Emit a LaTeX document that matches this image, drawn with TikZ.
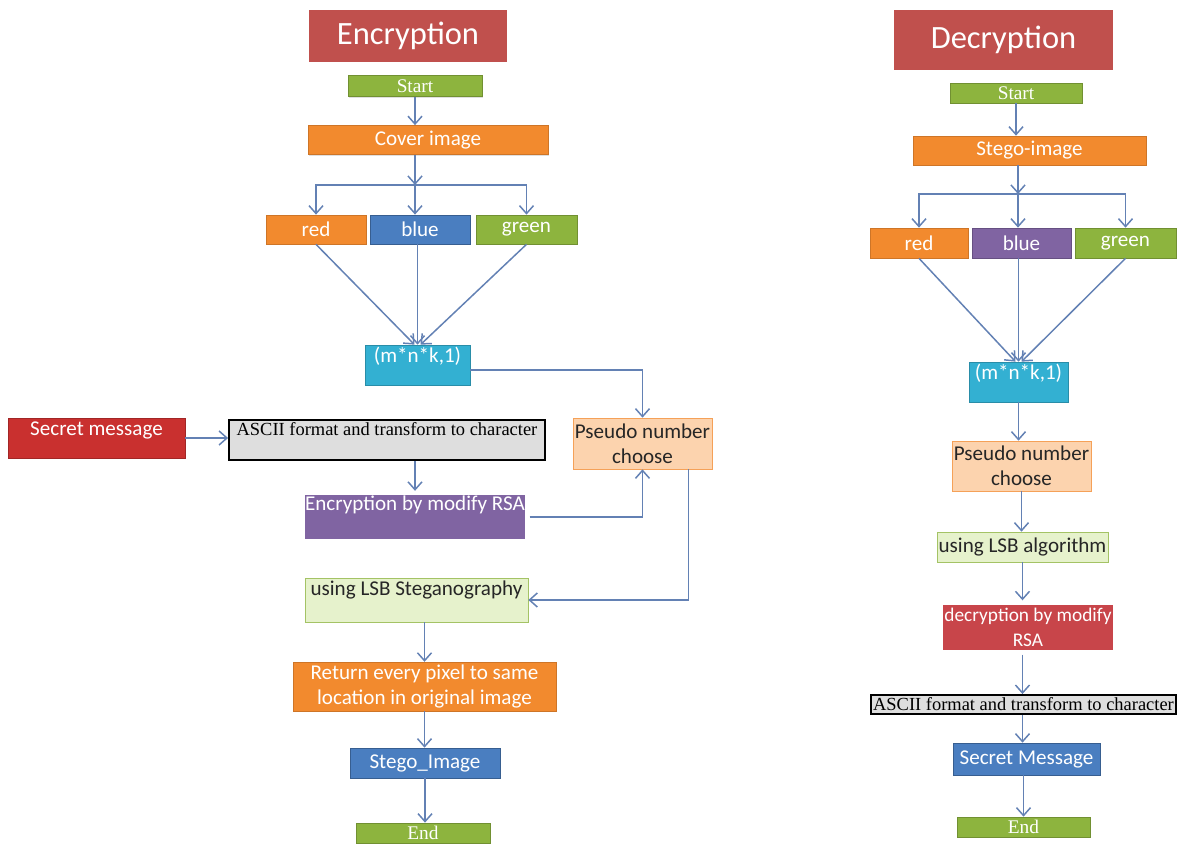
\documentclass[tikz,border=0pt]{standalone}
\usepackage{fontspec}
\setmainfont{Carlito}
\newfontfamily\tnr{Liberation Serif}
\usetikzlibrary{arrows.meta,shadows}

\definecolor{titlered}{HTML}{C0504D}
\definecolor{boxgreen}{HTML}{8DB43E}
\definecolor{boxorange}{HTML}{F28A2E}
\definecolor{boxblue}{HTML}{4A7EC0}
\definecolor{boxcyan}{HTML}{33B0D2}
\definecolor{boxpurple}{HTML}{8064A2}
\definecolor{paleorange}{HTML}{FCD3AE}
\definecolor{palegreen}{HTML}{E6F2CC}
\definecolor{msgred}{HTML}{C9302F}
\definecolor{decred}{HTML}{C8454A}
\definecolor{linkblue}{HTML}{6381B4}

\newcommand{\boxfont}{\fontsize{12}{14.5}\selectfont}
\newcommand{\serifbox}{\tnr\fontsize{10.5}{12}\selectfont}

\tikzset{
  blk/.style={rectangle, inner xsep=1pt, inner ysep=0.05cm, align=center, text=white,
    font=\boxfont, drop shadow={opacity=0.25,shadow xshift=0.7pt,shadow yshift=-0.7pt}},
  heading/.style={rectangle, fill=titlered, text=white, font=\fontsize{18.5}{22}\selectfont},
  term/.style={blk, fill=boxgreen, draw=boxgreen!80!black, font=\tnr\fontsize{11}{13}\selectfont},
  orangebox/.style={blk, fill=boxorange, draw=boxorange!85!black},
  bluebox/.style={blk, fill=boxblue, draw=boxblue!75!black},
  greenbox/.style={blk, fill=boxgreen, draw=boxgreen!80!black},
  purplebox/.style={blk, fill=boxpurple, draw=boxpurple!80!black},
  cyanbox/.style={blk, fill=boxcyan, draw=boxcyan!80!black},
  pseudobox/.style={blk, fill=paleorange, draw=boxorange!80, text=black!85},
  lsbbox/.style={blk, fill=palegreen, draw=boxgreen!80, text=black!85},
  asciibox/.style={blk, fill=black!13, draw=black, line width=1.1pt, text=black, font=\serifbox},
  framed/.style={draw=white, line width=2.5pt, drop shadow={opacity=0.3,shadow xshift=0.8pt,shadow yshift=-0.8pt}},
  topalign/.style={text height=0.3cm, text depth=#1},
}

\begin{document}
\begin{tikzpicture}[x=0.02cm,y=-0.02cm,>={Straight Barb[length=4.5pt,width=8pt]},
  link/.style={->,draw=linkblue,line width=0.85pt}]
  \useasboundingbox (0,0) rectangle (1178,845);

  % encryption side
  \node[heading, minimum width=3.96cm, minimum height=1.06cm] (encT) at (408,36) {Encryption};
  \node[term, minimum width=2.68cm, minimum height=0.42cm] (startL) at (415,86) {Start};
  \node[orangebox, minimum width=4.8cm, minimum height=0.58cm] (coverL) at (428,140) {Cover image};
  \node[orangebox, minimum width=2cm, minimum height=0.58cm] (redL) at (316,229.5) {red};
  \node[bluebox, minimum width=2cm, minimum height=0.58cm] (blueL) at (420,229.5) {blue};
  \node[greenbox, minimum width=2.02cm, minimum height=0.58cm] (greenL) at (526.5,229.5) {green};
  \node[cyanbox, minimum width=2.1cm, topalign=0.4cm] (mnkL) at (417.5,365) {(m*n*k,1)};
  \node[pseudobox, minimum width=2.78cm, minimum height=1.02cm] (pseudoL) at (642.5,443.5) {Pseudo number\\choose};
  \node[blk, fill=msgred, draw=msgred!80!black, minimum width=3.54cm, topalign=0.4cm] (secretL) at (96.5,438) {Secret message};
  \node[asciibox, minimum width=6.32cm, text height=0.26cm, text depth=0.44cm] (asciiL) at (387,440) {ASCII format and transform to character};
  \node[purplebox, framed, minimum width=4.5cm, topalign=0.56cm] (rsaL) at (415,517) {Encryption by modify RSA};
  \node[lsbbox, minimum width=4.46cm, topalign=0.48cm] (lsbL) at (416.5,600) {using LSB Steganography};
  \node[orangebox, minimum width=5.26cm, minimum height=0.94cm] (returnL) at (424.5,686.5) {Return every pixel to same\\location in original image};
  \node[bluebox, minimum width=3cm, minimum height=0.6cm] (stegoL) at (425,763) {Stego\_Image};
  \node[term, minimum width=2.68cm, minimum height=0.4cm] (endL) at (423,833) {End};

  \coordinate (jL) at (415,185);
  \draw[link] (startL.south) -- (startL.south |- coverL.north);
  \draw[link] (jL |- coverL.south) -- (jL);
  \draw[link] (jL) -| (redL.north);
  \draw[link] (jL) -- (jL |- blueL.north);
  \draw[link] (jL) -| (greenL.north);
  \draw[link] (redL.south) -- ([xshift=-0.06cm]mnkL.north);
  \draw[link] (mnkL.north |- blueL.south) -- (mnkL.north);
  \draw[link] (greenL.south) -- ([xshift=0.06cm]mnkL.north);
  \draw[link] ([yshift=-0.1cm]mnkL.east) -| (pseudoL.north);
  \draw[link] (secretL.east) -- (secretL.east -| asciiL.west);
  \draw[link] (rsaL.north |- asciiL.south) -- (rsaL.north);
  \draw[link] (rsaL.east) -| (pseudoL.south);
  \draw[link] ([xshift=-0.48cm]pseudoL.south east) |- (lsbL.east);
  \draw[link] (returnL.north |- lsbL.south) -- (returnL.north);
  \draw[link] (returnL.south) -- (returnL.south |- stegoL.north);
  \draw[link] (stegoL.south) -- (stegoL.south |- endL.north);

  % decryption side
  \node[heading, minimum width=4.38cm, minimum height=1.2cm] (decT) at (1003.5,40) {Decryption};
  \node[term, minimum width=2.64cm, minimum height=0.4cm] (startR) at (1016,93) {Start};
  \node[orangebox, minimum width=4.66cm, minimum height=0.58cm] (coverR) at (1029.5,150.5) {Stego-image};
  \node[orangebox, minimum width=1.96cm, minimum height=0.6cm] (redR) at (919,243) {red};
  \node[purplebox, minimum width=1.98cm, minimum height=0.6cm] (blueR) at (1021.5,243) {blue};
  \node[greenbox, minimum width=2.02cm, minimum height=0.6cm] (greenR) at (1125.5,243) {green};
  \node[cyanbox, minimum width=1.98cm, topalign=0.4cm] (mnkR) at (1018.5,382) {(m*n*k,1)};
  \node[pseudobox, minimum width=2.74cm, minimum height=1cm] (pseudoR) at (1021.5,466) {Pseudo number\\choose};
  \node[lsbbox, minimum width=3.26cm, minimum height=0.6cm] (lsbR) at (1022.5,547) {using LSB algorithm};
  \node[blk, fill=decred, framed, minimum width=3.5cm, minimum height=1cm, font=\fontsize{11}{14}\selectfont] (decR) at (1028,627.5) {decryption by modify\\RSA};
  \node[asciibox, minimum width=6.1cm, minimum height=0.38cm, inner ysep=0pt] (asciiR) at (1023.5,704.5) {ASCII format and transform to character};
  \node[bluebox, minimum width=2.94cm, minimum height=0.64cm] (secretR) at (1026.5,759) {Secret Message};
  \node[term, minimum width=2.66cm, minimum height=0.4cm] (endR) at (1023.5,827) {End};

  \coordinate (jR) at (1018,194);
  \draw[link] (startR.south) -- (startR.south |- coverR.north);
  \draw[link] (jR |- coverR.south) -- (jR);
  \draw[link] (jR) -| (redR.north);
  \draw[link] (jR) -- (jR |- blueR.north);
  \draw[link] (jR) -| (greenR.north);
  \draw[link] (redR.south) -- ([xshift=-0.06cm]mnkR.north);
  \draw[link] (mnkR.north |- blueR.south) -- (mnkR.north);
  \draw[link] (greenR.south) -- ([xshift=0.06cm]mnkR.north);
  \draw[link] (mnkR.south) -- (mnkR.south |- pseudoR.north);
  \draw[link] (pseudoR.south) -- (pseudoR.south |- lsbR.north);
  \draw[link] (lsbR.south) -- (lsbR.south |- decR.north);
  \draw[link] (lsbR.south |- decR.south) -- (lsbR.south |- asciiR.north);
  \draw[link] (lsbR.south |- asciiR.south) -- (lsbR.south |- secretR.north);
  \draw[link] (endR.north |- secretR.south) -- (endR.north);
\end{tikzpicture}
\end{document}
